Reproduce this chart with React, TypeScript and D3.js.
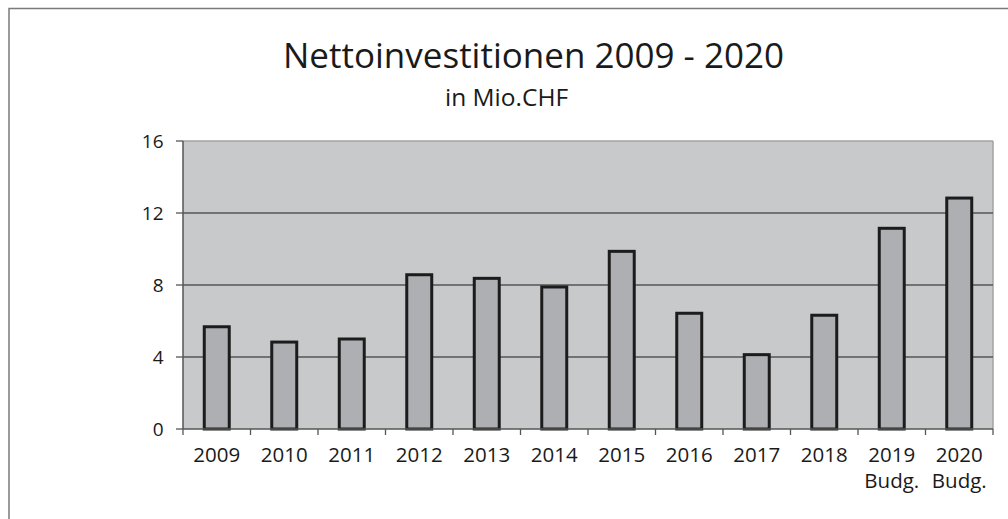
import React from "react";
import * as d3 from "d3";

const years = ["2009", "2010", "2011", "2012", "2013", "2014", "2015", "2016", "2017", "2018", "2019", "2020"];
const subLabels = ["", "", "", "", "", "", "", "", "", "", "Budg.", "Budg."];
const values = [5.68, 4.83, 5.0, 8.57, 8.37, 7.89, 9.87, 6.43, 4.13, 6.32, 11.15, 12.83];
const yTicks = [0, 4, 8, 12, 16];

const W = 1008;
const H = 519;
const left = 183;
const right = 993;
const top = 141;
const bottom = 429;
const font = "'Open Sans', sans-serif";

const App = () => {
  const x = d3.scaleBand().domain(years).range([left, right]).paddingInner(0.63).paddingOuter(0.315);
  const y = d3.scaleLinear().domain([0, 16]).range([bottom, top]);
  const step = x.step();

  return (
    <svg width={W} height={H} style={{ position: "absolute", left: 0, top: 0 }}>
      <rect x={0} y={0} width={W} height={H} fill="#fff" />
      {/* outer frame, runs off the right and bottom */}
      <rect x={9} y={8.5} width={1100} height={600} fill="none" stroke="#7a7a7a" strokeWidth={1.5} />

      <text x={283} y={68} fontFamily={font} fontSize={35} fill="#1a1a1a">
        Nettoinvestitionen 2009 - 2020
      </text>
      <text x={445} y={106} fontFamily={font} fontSize={24.5} fill="#1a1a1a">
        in Mio.CHF
      </text>

      <rect x={left} y={top} width={right - left} height={bottom - top} fill="#c8c9cb" />
      <line x1={left} x2={right} y1={top} y2={top} stroke="#a3a3a3" strokeWidth={1.5} />
      <line x1={right} x2={right} y1={top} y2={bottom} stroke="#a3a3a3" strokeWidth={1.5} />

      {yTicks.filter((t) => t > 0 && t < 16).map((t) => (
        <line key={"g" + t} x1={left} x2={right} y1={y(t)} y2={y(t)} stroke="#555" strokeWidth={1.3} />
      ))}

      {values.map((v, i) => (
        <rect
          key={years[i]}
          x={x(years[i])}
          y={y(v)}
          width={x.bandwidth()}
          height={bottom - y(v)}
          fill="#aeafb2"
          stroke="#1c1c1c"
          strokeWidth={3}
        />
      ))}

      {/* y axis */}
      <line x1={left} x2={left} y1={top} y2={bottom} stroke="#555" strokeWidth={1.5} />
      {yTicks.map((t) => (
        <g key={"y" + t}>
          <line x1={left - 7} x2={left} y1={y(t)} y2={y(t)} stroke="#555" strokeWidth={1.3} />
          <text x={163.5} y={y(t)} dy="0.35em" textAnchor="end" fontFamily={font} fontSize={19} fill="#1a1a1a">
            {t}
          </text>
        </g>
      ))}

      {/* x axis */}
      <line x1={left} x2={right} y1={bottom} y2={bottom} stroke="#555" strokeWidth={1.5} />
      {d3.range(years.length + 1).map((i) => (
        <line key={"xt" + i} x1={left + i * step} x2={left + i * step} y1={bottom} y2={bottom + 6} stroke="#555" strokeWidth={1.3} />
      ))}
      {years.map((yr, i) => {
        const cx = (x(yr) as number) + x.bandwidth() / 2;
        return (
          <g key={"xl" + yr}>
            <text x={cx} y={462} textAnchor="middle" fontFamily={font} fontSize={20.5} fill="#1a1a1a">
              {yr}
            </text>
            {subLabels[i] && (
              <text x={cx} y={487.5} textAnchor="middle" fontFamily={font} fontSize={20.5} fill="#1a1a1a">
                {subLabels[i]}
              </text>
            )}
          </g>
        );
      })}
    </svg>
  );
};

export default App;
